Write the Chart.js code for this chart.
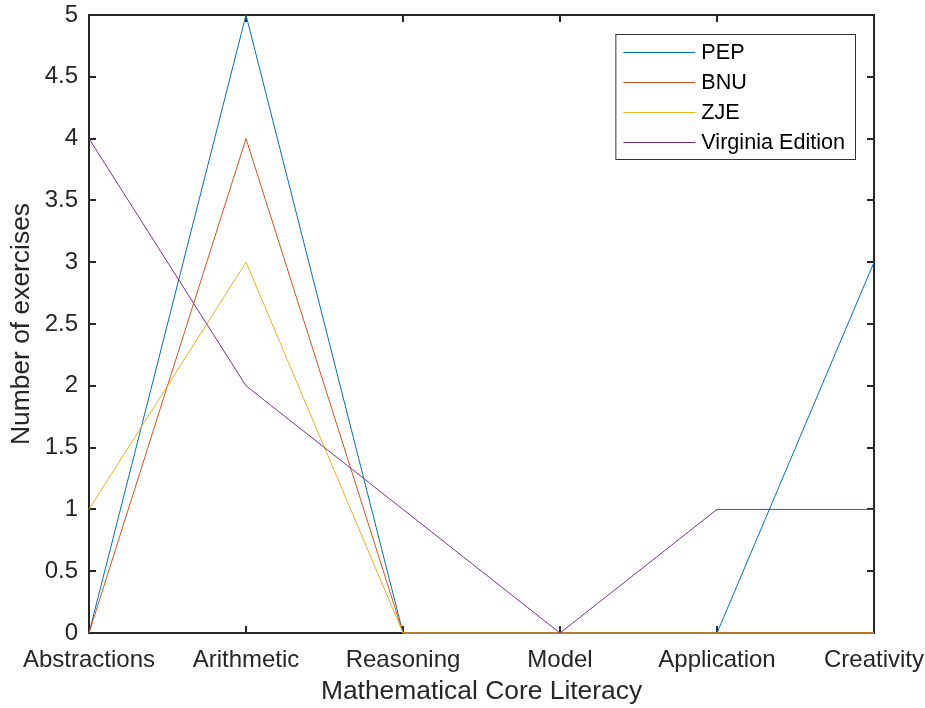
<!DOCTYPE html>
<html>
<head>
<meta charset="utf-8">
<script src="https://cdn.jsdelivr.net/npm/chart.js@4/dist/chart.umd.min.js"></script>
<style>
html,body{margin:0;padding:0;background:#fff;}
#wrap{width:925px;height:708px;position:relative;}
</style>
</head>
<body>
<div id="wrap"><canvas id="c" width="925" height="708"></canvas></div>
<script>
const categories = ["Abstractions","Arithmetic","Reasoning","Model","Application","Creativity"];
const pep = [0,5,0,0,0,3];
const bnu = [0,4,0,0,0,0];
const zje = [1,3,0,0,0,0];
const virginia = [4,2,1,0,1,1];
const seriesNames = ["PEP","BNU","ZJE","Virginia Edition"];
const seriesColors = ["#0072BD","#D95319","#EDB120","#7E2F8E"];
const yTicks = [0,0.5,1,1.5,2,2.5,3,3.5,4,4.5,5];

const FONT = '"Liberation Sans", Arial, Helvetica, sans-serif';
const AX = '#262626';

const boxPlugin = {
  id:'box',
  beforeDatasetsDraw(chart){
    const {ctx, chartArea:a, scales:{x,y}} = chart;
    ctx.save();
    ctx.strokeStyle = AX;
    ctx.lineWidth = 2;
    ctx.strokeRect(a.left, a.top, a.right-a.left, a.bottom-a.top);
    const tl = 7;
    ctx.beginPath();
    yTicks.forEach(v=>{
      const py = Math.round(y.getPixelForValue(v));
      ctx.moveTo(a.left, py); ctx.lineTo(a.left+tl, py);
      ctx.moveTo(a.right, py); ctx.lineTo(a.right-tl, py);
    });
    categories.forEach((c,i)=>{
      const px = Math.round(x.getPixelForValue(i));
      ctx.moveTo(px, a.bottom); ctx.lineTo(px, a.bottom-tl);
      ctx.moveTo(px, a.top); ctx.lineTo(px, a.top+tl);
    });
    ctx.stroke();
    ctx.restore();
  },
  afterDraw(chart){
    const {ctx, chartArea:a} = chart;
    ctx.save();
    ctx.font = '21.6px ' + FONT;
    let maxW = 0;
    seriesNames.forEach(n=>{ maxW = Math.max(maxW, ctx.measureText(n).width); });
    const bw = 86 + maxW + 10;
    const bx = a.right - 19 - bw;
    const by = a.top + 19;
    const bh = 125;
    ctx.fillStyle = '#fff';
    ctx.fillRect(bx, by, bw, bh);
    ctx.strokeStyle = '#333';
    ctx.lineWidth = 1;
    ctx.strokeRect(bx+0.5, by+0.5, bw, bh);
    seriesNames.forEach((n,i)=>{
      const cy = by + 18 + i*30 + 0.5;
      ctx.strokeStyle = seriesColors[i];
      ctx.beginPath();
      ctx.moveTo(bx+8, cy); ctx.lineTo(bx+80, cy);
      ctx.stroke();
      ctx.fillStyle = '#000';
      ctx.textBaseline = 'middle';
      ctx.textAlign = 'left';
      ctx.fillText(n, bx+86, cy+1);
    });
    ctx.restore();
  }
};

const dataSeries = [pep, bnu, zje, virginia];
new Chart(document.getElementById('c'), {
  type:'line',
  data:{
    labels: categories,
    datasets: dataSeries.map((d,i)=>({
      label: seriesNames[i],
      data: d,
      borderColor: seriesColors[i],
      backgroundColor: seriesColors[i],
      borderWidth: 1,
      pointRadius: 0,
      tension: 0,
      fill: false,
      clip: 5,
      order: 4 - i
    }))
  },
  options:{
    responsive:false,
    animation:false,
    layout:{padding:{left:0,right:51,top:15,bottom:0}},
    plugins:{legend:{display:false}, tooltip:{enabled:false}},
    scales:{
      x:{
        type:'category',
        offset:false,
        grid:{display:false, drawTicks:false},
        border:{display:false},
        ticks:{color:AX, font:{family:FONT, size:24}, padding:13, maxRotation:0, autoSkip:false},
        title:{display:true, text:'Mathematical Core Literacy', color:AX, font:{family:FONT, size:26.4}, padding:{top:0,bottom:0}},
        afterFit(s){ s.height = 75; s.paddingLeft = 0; s.paddingRight = 0; }
      },
      y:{
        min:0, max:5,
        grid:{display:false, drawTicks:false},
        border:{display:false},
        ticks:{stepSize:0.5, color:AX, font:{family:FONT, size:24}, padding:11,
          callback:(v)=>String(Number(v))},
        title:{display:true, text:'Number of exercises', color:AX, font:{family:FONT, size:26.4}, padding:{top:6,bottom:0}},
        afterFit(s){ s.width = 89; s.paddingTop = 0; s.paddingBottom = 0; }
      }
    }
  },
  plugins:[boxPlugin]
});
</script>
</body>
</html>
